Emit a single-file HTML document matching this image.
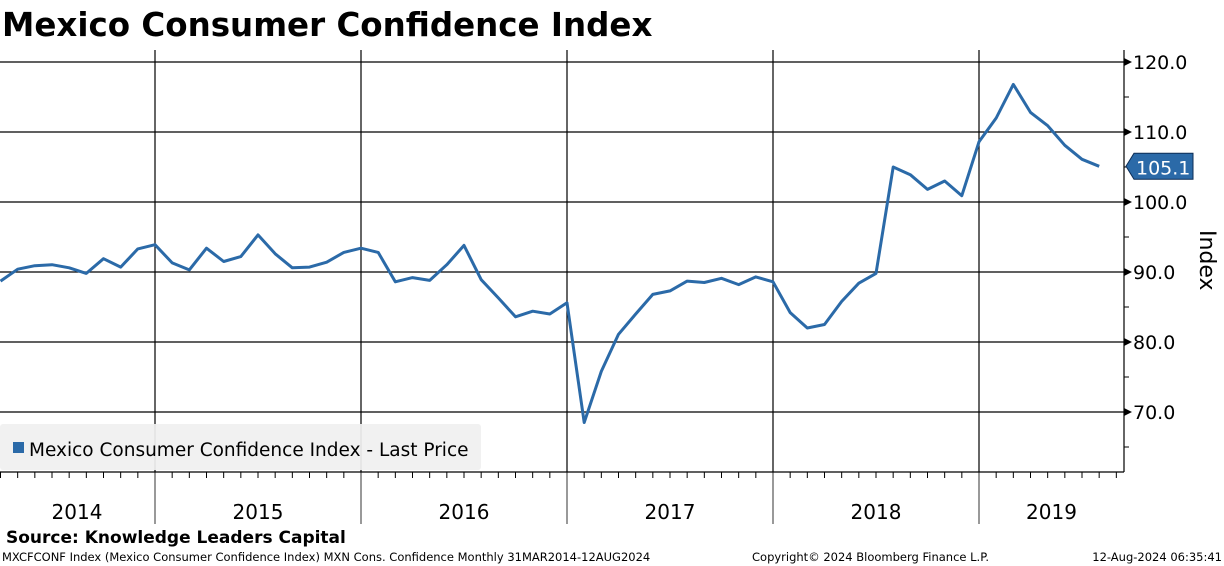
<!DOCTYPE html>
<html><head><meta charset="utf-8"><style>
body{margin:0;background:#fff;width:1224px;height:566px;overflow:hidden;font-family:"Liberation Sans","DejaVu Sans",sans-serif}
svg{position:absolute;left:0;top:0}
</style></head><body>
<svg id="c" width="1224" height="566" font-family="'DejaVu Sans','Liberation Sans',sans-serif"></svg>
<script>
const years=["2014","2015","2016","2017","2018","2019"];
const yTicks=[70,80,90,100,110,120];
const values=[88.7,90.4,90.9,91.05,90.6,89.8,91.9,90.7,93.3,93.9,
91.3,90.3,93.4,91.5,92.2,95.3,92.6,90.6,90.7,91.4,92.8,93.4,
92.8,88.6,89.2,88.8,91.05,93.8,88.9,86.3,83.6,84.4,84.0,85.6,
68.5,75.8,81.1,84.0,86.8,87.3,88.7,88.5,89.1,88.2,89.3,88.6,
84.2,82.0,82.5,85.8,88.4,89.8,105.0,103.9,101.8,103.0,100.9,108.6,
112.0,116.8,112.8,110.9,108.1,106.1,105.1];
const startMonth=3; // month-end index of first value (Mar 2014)
const lastLabel="105.1";
const NS="http://www.w3.org/2000/svg";
const svg=document.getElementById('c');
function el(t,a,p){const e=document.createElementNS(NS,t);for(const k in a)e.setAttribute(k,a[k]);(p||svg).appendChild(e);return e;}
const yearW=206, x0=-51;
const xM=m=>x0+m*yearW/12;
const yV=v=>272-(v-90)*7;
const axisX=1124, plotTop=50, plotBot=472;
let t=el('text',{x:2,y:36,'font-size':32.5,'font-weight':'bold','font-family':"'DejaVu Sans',sans-serif",fill:'#000'});
t.textContent="Mexico Consumer Confidence Index";


yTicks.forEach(v=>{
  const g=el('line',{x1:0,y1:yV(v),x2:axisX,y2:yV(v),stroke:'#000','stroke-width':1.2});
  
  
  el('polygon',{points:`${axisX},${yV(v)-4} ${axisX+8},${yV(v)} ${axisX},${yV(v)+4}`,fill:'#000'});
  const l=el('text',{x:axisX+9,y:yV(v)+7,'font-size':19,fill:'#000'});
  l.textContent=v.toFixed(1);
  
  
});
for(let v=65;v<=125;v+=10){if(yV(v)>plotTop&&yV(v)<plotBot)el('line',{x1:axisX,y1:yV(v),x2:axisX+5,y2:yV(v),stroke:'#000'});}
years.forEach((y,i)=>{
  if(i>0){const xx=xM(i*12);
    const g=el('line',{x1:xx,y1:plotTop,x2:xx,y2:plotBot,stroke:'#000','stroke-width':1.2});
    
    
    el('line',{x1:xx,y1:plotBot,x2:xx,y2:524,stroke:'#777','stroke-width':1.5});
  }
  const cx=(Math.max(0,xM(i*12))+Math.min(axisX,xM(i*12+12)))/2;
  const l=el('text',{x:i==0?77:cx,y:519,'font-size':20,'text-anchor':'middle',fill:'#000'});
  l.textContent=y;
  
  
});
for(let m=1;m<72;m++){const xx=xM(m);if(xx>0&&xx<axisX&&m%12)el('line',{x1:xx,y1:plotBot,x2:xx,y2:plotBot+6,stroke:'#000'});}
el('line',{x1:0,y1:plotBot,x2:axisX,y2:plotBot,stroke:'#000','stroke-width':1.2});
let ax=el('line',{x1:axisX,y1:plotTop,x2:axisX,y2:plotBot,stroke:'#000','stroke-width':1.2});


const lg=el('g',{});


el('rect',{x:0,y:424,width:481,height:46,rx:3,fill:'#f0f0f0','fill-opacity':0.93},lg);
el('rect',{x:13,y:442,width:11,height:11,fill:'#2b6aa8'},lg);
let lt=el('text',{x:29,y:456,'font-size':18.5,fill:'#000'},lg);
lt.textContent="Mexico Consumer Confidence Index  - Last Price";
const pts=values.map((v,i)=>xM(startMonth+i).toFixed(1)+','+yV(v).toFixed(1)).join(' ');
const line=el('polyline',{points:pts,fill:'none',stroke:'#2b6aa8','stroke-width':3,'stroke-linejoin':'round'});


const ly=yV(values[values.length-1]);
const tag=el('g',{});


el('polygon',{points:`${axisX+2},${ly} ${axisX+10},${ly-13} ${axisX+69},${ly-13} ${axisX+69},${ly+13} ${axisX+10},${ly+13}`,fill:'#2b6aa8',stroke:'#0d2d55'},tag);
let tt=el('text',{x:axisX+12,y:ly+8,'font-size':19,fill:'#fff'},tag);
tt.textContent=lastLabel;
let at=el('text',{x:0,y:0,'font-size':22,fill:'#000',transform:'translate(1200,230) rotate(90)'});
at.textContent="Index";


let s=el('text',{x:6,y:543,'font-size':17,'font-weight':'bold',fill:'#000'});
s.textContent="Source: Knowledge Leaders Capital";


[["MXCFCONF Index (Mexico Consumer Confidence Index) MXN Cons. Confidence  Monthly 31MAR2014-12AUG2024",2,'start'],["Copyright© 2024 Bloomberg Finance L.P.",752,'start'],["12-Aug-2024 06:35:41",1222,'end']].forEach(f=>{
  const e=el('text',{x:f[1],y:561,'font-size':11.5,'text-anchor':f[2],fill:'#000'});
  e.textContent=f[0];
  
  
});
</script>
</body></html>
